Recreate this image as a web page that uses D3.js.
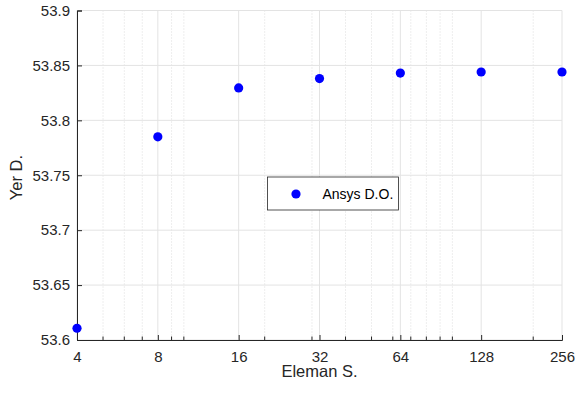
<!DOCTYPE html>
<html>
<head>
<meta charset="utf-8">
<script src="https://cdn.jsdelivr.net/npm/d3@7"></script>
<style>
  body { margin: 0; background: #fff; }
  svg { display: block; }
  text { font-family: "Liberation Sans", Arial, sans-serif; }
</style>
</head>
<body>
<div id="chart"></div>
<script>
// values
const elemanS = [4, 8, 16, 32, 64, 128, 256];
const yerD = [53.6107, 53.785, 53.8295, 53.838, 53.843, 53.844, 53.844];
const xTicks = [4, 8, 16, 32, 64, 128, 256];
const xMinor = [5, 6, 7, 9, 10, 20, 30, 40, 50, 60, 70, 80, 90, 100, 200];
const yTicks = [53.6, 53.65, 53.7, 53.75, 53.8, 53.85, 53.9];
const seriesName = "Ansys D.O.";

const W = 575, H = 394;
const margin = {top: 10.5, right: 13, bottom: 54, left: 77};
const width = W - margin.left - margin.right;
const height = H - margin.top - margin.bottom;

const svg = d3.select("#chart").append("svg")
    .attr("width", W)
    .attr("height", H);

const g = svg.append("g")
    .attr("transform", `translate(${margin.left},${margin.top})`);

const x = d3.scaleLog().base(2).domain([4, 256]).range([0, width]);
const y = d3.scaleLinear().domain([53.6, 53.9]).range([height, 0]);

// grid lines
g.append("g").selectAll("line")
    .data(xMinor)
    .enter().append("line")
    .attr("x1", d => x(d)).attr("x2", d => x(d))
    .attr("y1", 0).attr("y2", height)
    .attr("stroke", "#dcdcdc")
    .attr("stroke-dasharray", "1,2");

g.append("g").selectAll("line")
    .data(xTicks)
    .enter().append("line")
    .attr("x1", d => x(d)).attr("x2", d => x(d))
    .attr("y1", 0).attr("y2", height)
    .attr("stroke", "#e3e3e3");

g.append("g").selectAll("line")
    .data(yTicks)
    .enter().append("line")
    .attr("x1", 0).attr("x2", width)
    .attr("y1", d => y(d)).attr("y2", d => y(d))
    .attr("stroke", "#e3e3e3");

// axes
const xAxis = d3.axisBottom(x)
    .tickValues(xTicks)
    .tickFormat(d3.format("d"))
    .tickSize(-5)
    .tickPadding(11.5);

const xAxisGroup = g.append("g")
    .attr("transform", `translate(0,${height})`)
    .call(xAxis);

// minor ticks on the x axis
g.append("g")
    .attr("transform", `translate(0,${height})`)
    .selectAll("line")
    .data(xMinor)
    .enter().append("line")
    .attr("x1", d => x(d)).attr("x2", d => x(d))
    .attr("y1", 0).attr("y2", -3.5)
    .attr("stroke", "#262626");

const yAxis = d3.axisLeft(y)
    .tickValues(yTicks)
    .tickFormat(d => String(+d.toFixed(2)))
    .tickSize(-5)
    .tickPadding(7);

const yAxisGroup = g.append("g").call(yAxis);

[xAxisGroup, yAxisGroup].forEach(ax => {
    ax.attr("font-family", null).attr("font-size", null);
    ax.select(".domain").attr("stroke", "#262626");
    ax.selectAll(".tick line").attr("stroke", "#262626");
    ax.selectAll(".tick text")
        .attr("fill", "#262626")
        .style("font-size", "15px");
});

// axis labels
svg.append("text")
    .attr("x", margin.left + width / 2)
    .attr("y", 377)
    .attr("text-anchor", "middle")
    .attr("fill", "#262626")
    .style("font-size", "16.5px")
    .text("Eleman S.");

svg.append("text")
    .attr("transform", "translate(22,177.5) rotate(-90)")
    .attr("text-anchor", "middle")
    .attr("fill", "#262626")
    .style("font-size", "16.5px")
    .text("Yer D.");

// points
g.append("g").selectAll("circle")
    .data(elemanS)
    .enter().append("circle")
    .attr("cx", d => x(d))
    .attr("cy", (d, i) => y(yerD[i]))
    .attr("r", 4.6)
    .attr("fill", "#0000ff");

// legend
const legend = svg.append("g").attr("transform", "translate(267.5,177)");
legend.append("rect")
    .attr("width", 131)
    .attr("height", 33)
    .attr("fill", "#fff")
    .attr("stroke", "#262626")
    .attr("stroke-width", 0.8);
legend.append("circle")
    .attr("cx", 28.5)
    .attr("cy", 17)
    .attr("r", 4.6)
    .attr("fill", "#0000ff");
legend.append("text")
    .attr("x", 55)
    .attr("y", 22)
    .attr("fill", "#000")
    .style("font-size", "14px")
    .text(seriesName);
</script>
</body>
</html>
